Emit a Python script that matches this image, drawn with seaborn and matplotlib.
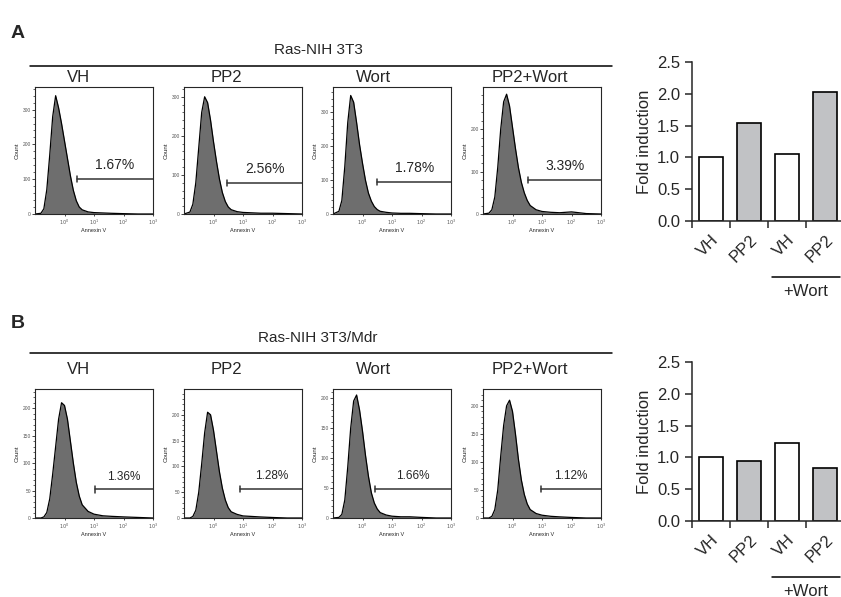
import numpy as np
import pandas as pd
import matplotlib
matplotlib.use("Agg")
from matplotlib import pyplot as plt
from matplotlib.lines import Line2D
import seaborn as sns

sns.set_style("ticks")
plt.rcParams['font.family'] = ['Liberation Sans Narrow', 'Liberation Sans', 'DejaVu Sans']

# ---- data ----
conditions = ["VH", "PP2", "Wort", "PP2+Wort"]
# log10(Annexin V) positions of the histogram points
logx = [-1.0, -0.8, -0.7, -0.6, -0.5, -0.4, -0.3, -0.2, -0.1, 0.0, 0.1, 0.2,
        0.3, 0.4, 0.5, 0.6, 0.8, 1.0, 1.3, 1.6, 2.0, 2.5, 3.0]

a_vh = [0, 2, 15, 70, 170, 280, 340, 305, 260, 210, 160, 110, 68, 38, 20, 12, 6, 4, 3, 2, 1, 0, 0]
a_pp2 = [0, 5, 25, 80, 170, 260, 300, 285, 240, 185, 135, 90, 55, 32, 18, 11, 6, 4, 3, 2, 2, 1, 0]
a_wort = [0, 8, 40, 140, 270, 350, 330, 270, 205, 150, 100, 62, 38, 22, 13, 8, 5, 3, 2, 2, 1, 0, 0]
a_pp2wort = [0, 2, 10, 40, 110, 200, 265, 283, 255, 205, 155, 110, 75, 50, 32, 20, 10, 6, 4, 3, 5, 1, 0]
b_vh = [0, 0, 2, 10, 35, 80, 130, 180, 210, 205, 180, 140, 100, 65, 40, 24, 12, 7, 4, 3, 2, 1, 0]
b_pp2 = [0, 0, 3, 15, 50, 105, 165, 205, 200, 170, 130, 90, 58, 35, 20, 12, 7, 4, 3, 2, 1, 0, 0]
b_wort = [0, 1, 6, 30, 85, 150, 195, 205, 180, 145, 105, 70, 42, 25, 15, 9, 5, 3, 2, 2, 1, 0, 0]
b_pp2wort = [0, 0, 3, 15, 50, 110, 165, 200, 210, 190, 150, 105, 68, 42, 25, 15, 8, 5, 3, 2, 1, 0, 0]

a_ymax = [365, 325, 375, 300]
b_ymax = [235, 250, 215, 230]
a_gate_start = [0.43, 0.47, 0.50, 0.54]
a_gate_level = [100, 80, 95, 80]
b_gate_start = [1.02, 0.91, 0.44, 0.95]
b_gate_level = [52, 56, 48, 52]
a_pct = ["1.67%", "2.56%", "1.78%", "3.39%"]
b_pct = ["1.36%", "1.28%", "1.66%", "1.12%"]

bar_labels = ["VH", "PP2", "VH", "PP2"]
a_fold = [1.0, 1.54, 1.06, 2.03]
b_fold = [1.0, 0.95, 1.22, 0.83]

W, H = 841, 597
fig = plt.figure(figsize=(W / 100, H / 100), dpi=100)


def px(x0, y0, x1, y1):
    return [x0 / W, 1 - y1 / H, (x1 - x0) / W, (y1 - y0) / H]


def hline(x0, x1, y):
    fig.add_artist(Line2D([x0 / W, x1 / W], [1 - y / H, 1 - y / H], color="black", lw=1.1))


def histo(ax, counts, ymax, gstart, glevel, pct, pct_size, major, minor):
    df = pd.DataFrame({"x": [10 ** v for v in logx], "count": counts})
    ax.fill_between(df["x"], df["count"], color="#6e6e6e", lw=0)
    sns.lineplot(data=df, x="x", y="count", ax=ax, color="black", lw=0.9)
    ax.set_xscale("log")
    ax.set_xlim(0.1, 1000)
    ax.set_ylim(0, ymax)
    ax.set_xticks([1, 10, 100, 1000])
    ax.set_xticklabels(["$10^0$", "$10^1$", "$10^2$", "$10^3$"], fontsize=3.5, color="#555555")
    ax.xaxis.set_minor_locator(matplotlib.ticker.NullLocator())
    ax.set_yticks(np.arange(0, ymax, major))
    ax.set_yticks(np.arange(0, ymax, minor), minor=True)
    ax.tick_params(axis="y", labelsize=3.5, labelcolor="#555555", length=2, width=0.6, pad=1)
    ax.tick_params(axis="y", which="minor", length=1.2, width=0.5)
    ax.tick_params(axis="x", length=1.5, width=0.6, pad=1)
    ax.set_xlabel("Annexin V", fontsize=4, labelpad=1)
    ax.set_ylabel("Count", fontsize=4.5, labelpad=2)
    for s in ax.spines.values():
        s.set_linewidth(0.8)
    gx0 = 10 ** gstart
    ax.plot([gx0, 1000], [glevel, glevel], color="#333333", lw=1.1)
    ax.plot([gx0, gx0], [glevel - ymax * 0.025, glevel + ymax * 0.025], color="#333333", lw=1.1)
    mid = 10 ** ((gstart + 3) / 2)
    ax.annotate(pct, (mid, glevel), xytext=(0, 5), textcoords="offset points",
                ha="center", va="bottom", fontsize=pct_size)


def bars(ax, vals):
    df = pd.DataFrame({"pos": [0, 1, 2, 3], "fold": vals})
    sns.barplot(data=df, x="pos", y="fold", ax=ax, width=0.63, native_scale=True,
                palette=["white", "#c0c2c6", "white", "#c0c2c6"], hue="pos", legend=False,
                edgecolor="black", linewidth=1.2)
    ax.set_ylim(0, 2.5)
    ax.set_xlim(-0.5, 3.42)
    ax.set_yticks([0, 0.5, 1.0, 1.5, 2.0, 2.5])
    ax.set_yticklabels(["0.0", "0.5", "1.0", "1.5", "2.0", "2.5"], fontsize=12)
    ax.set_xticks([-0.5, 0.5, 1.5, 2.5])
    ax.set_xticklabels([])
    ax.set_xticks([0, 1, 2, 3], minor=True)
    ax.set_xticklabels(bar_labels, minor=True, rotation=45, ha="right",
                       rotation_mode="anchor", fontsize=12)
    ax.tick_params(axis="x", which="minor", length=0, pad=8)
    ax.tick_params(axis="both", which="major", length=5, width=1.1)
    ax.set_xlabel("")
    ax.set_ylabel("Fold induction", fontsize=12, labelpad=4)
    sns.despine(ax=ax)
    ax.spines["left"].set_linewidth(1.1)
    ax.spines["bottom"].set_linewidth(1.1)


lefts = [35, 184, 333, 483]
centers = [78, 226, 373, 530]

# panel A
fig.text(18 / W, 1 - 33 / H, "A", fontsize=14, fontweight="bold", va="center", ha="center")
fig.text(318 / W, 1 - 50 / H, "Ras-NIH 3T3", fontsize=11, va="center", ha="center")
hline(30, 612, 66)
for i, counts in enumerate([a_vh, a_pp2, a_wort, a_pp2wort]):
    fig.text(centers[i] / W, 1 - 77 / H, conditions[i], fontsize=12, va="center", ha="center")
    ax = fig.add_axes(px(lefts[i], 87, lefts[i] + 118, 214))
    histo(ax, counts, a_ymax[i], a_gate_start[i], a_gate_level[i], a_pct[i], 10, 100, 20)

axa = fig.add_axes(px(692, 62, 841, 221))
bars(axa, a_fold)
hline(772, 840, 277)
fig.text(806 / W, 1 - 291 / H, "+Wort", fontsize=12, va="center", ha="center")

# panel B
fig.text(18 / W, 1 - 323 / H, "B", fontsize=14, fontweight="bold", va="center", ha="center")
fig.text(318 / W, 1 - 338 / H, "Ras-NIH 3T3/Mdr", fontsize=11, va="center", ha="center")
hline(30, 612, 353)
for i, counts in enumerate([b_vh, b_pp2, b_wort, b_pp2wort]):
    fig.text(centers[i] / W, 1 - 370 / H, conditions[i], fontsize=12, va="center", ha="center")
    ax = fig.add_axes(px(lefts[i], 389, lefts[i] + 118, 518))
    histo(ax, counts, b_ymax[i], b_gate_start[i], b_gate_level[i], b_pct[i], 8.5, 50, 10)

axb = fig.add_axes(px(692, 362, 841, 521))
bars(axb, b_fold)
hline(772, 840, 577)
fig.text(806 / W, 1 - 591 / H, "+Wort", fontsize=12, va="center", ha="center")

fig.savefig("out.png", dpi=100)
